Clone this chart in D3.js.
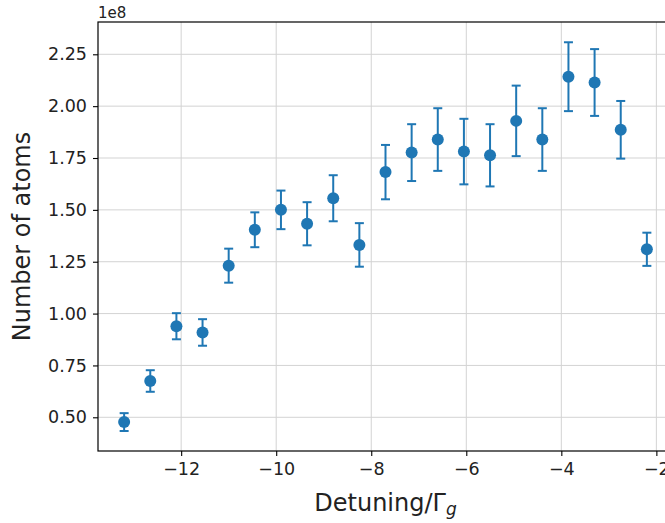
<!DOCTYPE html>
<html>
<head>
<meta charset="utf-8">
<script src="https://cdn.jsdelivr.net/npm/d3@7"></script>
<style>
  html, body { margin: 0; padding: 0; background: #fff; overflow: hidden; }
  svg { display: block; font-family: "DejaVu Sans", sans-serif; }
</style>
</head>
<body>
<svg id="chart" width="665" height="523"></svg>
<script>
// Detuning in units of Γ_g
const detuning = [-13.2, -12.65, -12.1, -11.55, -11.0, -10.45, -9.9, -9.35, -8.8, -8.25,
                  -7.7, -7.15, -6.6, -6.05, -5.5, -4.95, -4.4, -3.85, -3.3, -2.75, -2.2];
// Number of atoms, in units of 1e8
const atoms = [0.477, 0.675, 0.939, 0.909, 1.231, 1.404, 1.500, 1.433, 1.556, 1.331,
               1.682, 1.776, 1.839, 1.781, 1.763, 1.929, 1.839, 2.142, 2.114, 1.886, 1.31];
// Error bar half-lengths, in units of 1e8
const atomsErr = [0.043, 0.052, 0.063, 0.064, 0.082, 0.084, 0.093, 0.104, 0.111, 0.105,
                  0.131, 0.137, 0.151, 0.158, 0.150, 0.170, 0.151, 0.166, 0.161, 0.139, 0.08];
const xTicks = [-12, -10, -8, -6, -4, -2];
const yTicks = [0.50, 0.75, 1.00, 1.25, 1.50, 1.75, 2.00, 2.25];
const xDomain = [-13.75, -1.65];
const yDomain = [0.3375, 2.4057];

const svg = d3.select("#chart");
const M = { left: 98, top: 22, right: 673, bottom: 451 };
const color = "#1f77b4";

const x = d3.scaleLinear().domain(xDomain).range([M.left, M.right]);
const y = d3.scaleLinear().domain(yDomain).range([M.bottom, M.top]);

// grid
const grid = svg.append("g");
grid.selectAll("line.gx").data(xTicks).join("line")
  .attr("x1", d => x(d)).attr("x2", d => x(d))
  .attr("y1", M.top).attr("y2", M.bottom)
  .attr("stroke", "#d3d3d3").attr("stroke-width", 1);
grid.selectAll("line.gy").data(yTicks).join("line")
  .attr("x1", M.left).attr("x2", M.right)
  .attr("y1", d => y(d)).attr("y2", d => y(d))
  .attr("stroke", "#d3d3d3").attr("stroke-width", 1);

// error bars and points
const pts = detuning.map((d, i) => ({ x: d, y: atoms[i], e: atomsErr[i] }));
const eb = svg.append("g").attr("stroke", color).attr("stroke-width", 2);
eb.selectAll("line.v").data(pts).join("line")
  .attr("x1", d => x(d.x)).attr("x2", d => x(d.x))
  .attr("y1", d => y(d.y - d.e)).attr("y2", d => y(d.y + d.e));
eb.selectAll("line.ct").data(pts).join("line")
  .attr("x1", d => x(d.x) - 4.5).attr("x2", d => x(d.x) + 4.5)
  .attr("y1", d => y(d.y + d.e)).attr("y2", d => y(d.y + d.e));
eb.selectAll("line.cb").data(pts).join("line")
  .attr("x1", d => x(d.x) - 4.5).attr("x2", d => x(d.x) + 4.5)
  .attr("y1", d => y(d.y - d.e)).attr("y2", d => y(d.y - d.e));
svg.append("g").selectAll("circle").data(pts).join("circle")
  .attr("cx", d => x(d.x)).attr("cy", d => y(d.y)).attr("r", 6)
  .attr("fill", color);

// axes
const fmtX = d => d3.format("d")(d).replace("-", "\u2212");
const xAxis = d3.axisBottom(x).tickValues(xTicks).tickFormat(fmtX).tickSize(5).tickPadding(6);
const yAxis = d3.axisLeft(y).tickValues(yTicks).tickFormat(d3.format(".2f")).tickSize(5).tickPadding(6);

const gx = svg.append("g").attr("transform", `translate(0,${M.bottom})`).call(xAxis);
const gy = svg.append("g").attr("transform", `translate(${M.left},0)`).call(yAxis);
[gx, gy].forEach(g => {
  g.select(".domain").remove();
  g.selectAll(".tick line").attr("stroke", "#000").attr("stroke-width", 1.1);
  g.selectAll(".tick text").attr("fill", "#222").style("font-size", "17.5px")
    .style("font-family", "DejaVu Sans");
});
gx.selectAll(".tick text").attr("dy", "0.72em");

// spines
svg.append("rect").attr("x", M.left).attr("y", M.top)
  .attr("width", M.right - M.left).attr("height", M.bottom - M.top)
  .attr("fill", "none").attr("stroke", "#000").attr("stroke-width", 1.2);

// offset text
svg.append("text").attr("x", M.left).attr("y", 18)
  .style("font-size", "15px").attr("fill", "#222").text("1e8");

// axis labels
const xl = svg.append("text").attr("x", (M.left + M.right) / 2).attr("y", 511)
  .attr("text-anchor", "middle").style("font-size", "24px").attr("fill", "#222");
xl.append("tspan").text("Detuning/\u0393");
xl.append("tspan").attr("dy", 4).style("font-size", "17px").style("font-style", "italic").text("g");

svg.append("text")
  .attr("transform", `translate(30,${(M.top + M.bottom) / 2}) rotate(-90)`)
  .attr("text-anchor", "middle").style("font-size", "24px").attr("fill", "#222")
  .text("Number of atoms");
</script>
</body>
</html>
